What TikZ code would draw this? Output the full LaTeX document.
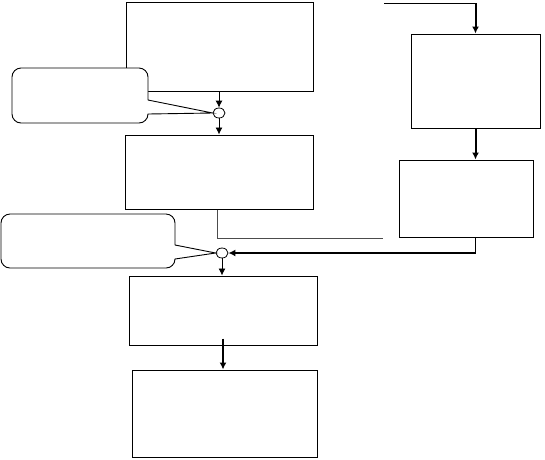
\documentclass[tikz,border=0pt]{standalone}
\usepackage{tikz}
\usetikzlibrary{arrows.meta, shapes.geometric}

\tikzset{
  box/.style={draw, line width=1pt, inner sep=0pt},
  joint/.style={draw, ellipse, line width=0.8pt, minimum width=12pt, minimum height=10pt, inner sep=0pt, fill=white},
  flow/.style={line width=0.9pt, -{Latex[length=7pt,width=7pt]}},
  bigflow/.style={line width=2pt, -{Latex[length=7pt,width=7pt]}},
  plain/.style={line width=0.9pt},
  note/.style={line width=0.9pt, fill=white},
  feed/.style={line width=0.9pt, black!70},
}

\begin{document}
\begin{tikzpicture}[x=1pt,y=-1pt]
\useasboundingbox (0,0) rectangle (545,459);

% left column
\node[box, minimum width=187pt, minimum height=89pt] (b1) at (219.5,46.5) {};
\node[box, minimum width=188pt, minimum height=74pt] (b2) at (219,172) {};
\node[box, minimum width=188pt, minimum height=69pt] (b3) at (223,310.5) {};
\node[box, minimum width=185pt, minimum height=87pt] (b4) at (224.5,413.5) {};

% right column
\node[box, minimum width=129pt, minimum height=94pt] (bA) at (475.5,81) {};
\node[box, minimum width=134pt, minimum height=77pt] (bB) at (466,198.5) {};

% callouts
\node[joint] (c1) at (219,113) {};
\node[joint] (c2) at (222,253) {};
\draw[note] (148,100) -- (c1.west) -- (148,114) -- (148,115)
  [rounded corners=9pt] -- (148,123) -- (12,123) -- (12,68) -- (148,68) -- (148,100);
\draw[note] (175,245) -- (c2.west) -- (175,259) -- (175,260)
  [rounded corners=9pt] -- (175,268) -- (1,268) -- (1,214) -- (175,214) -- (175,245);

% connectors
\draw[flow] (b1.south -| c1) -- (c1.north);
\draw[flow] (c1.south) -- (c1.south |- b2.north);
\draw[flow] (c2.south) -- (c2.south |- b3.north);
\draw[bigflow] ([yshift=7pt]b3.south) -- (b3.south |- b4.north);

\coordinate (d1) at (383,238);
\draw[feed] ([xshift=-2pt]b2.south) |- (d1);

\coordinate (s1) at (384,3);
\draw[plain] (s1) -- (s1 -| bA.north);
\draw[bigflow] (s1 -| bA.north) -- (bA.north);
\draw[bigflow] (bA.south) -- (bA.south |- bB.north);

\coordinate (turn2) at (bA.south |- c2.east);
\draw[plain] (bB.south -| turn2) -- (turn2);
\draw[bigflow] (turn2) -- (c2.east);
\end{tikzpicture}
\end{document}
